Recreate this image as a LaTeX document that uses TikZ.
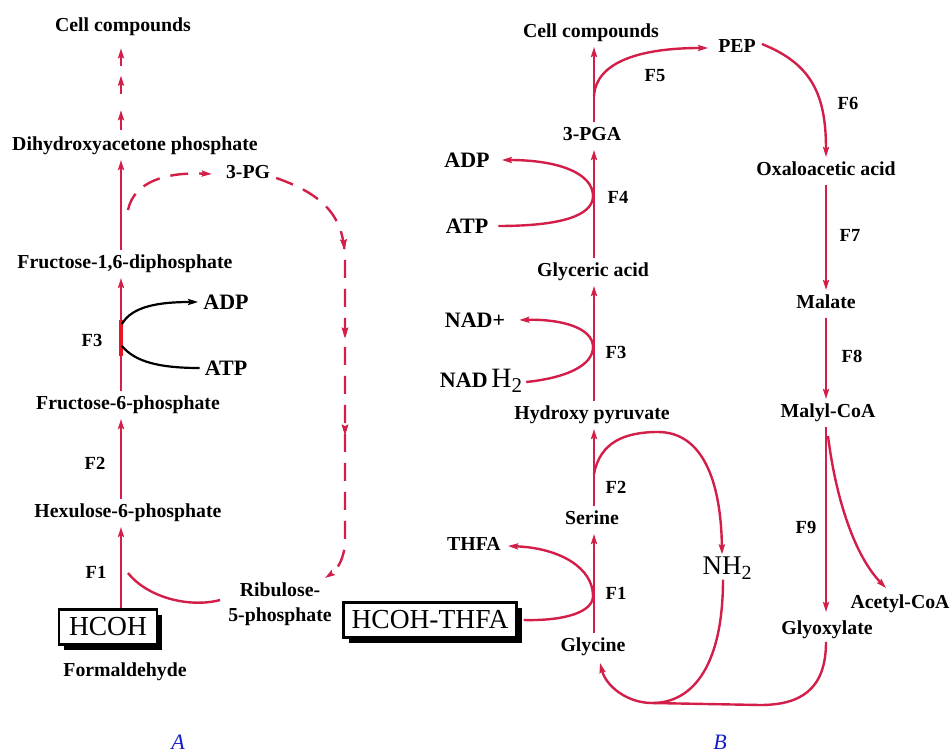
\documentclass[tikz,border=0pt]{standalone}
\usepackage{fontspec}
\setmainfont{Liberation Serif}
\usetikzlibrary{arrows.meta,decorations.markings,calc,shadows}
\definecolor{pw}{RGB}{210,30,72}
\definecolor{pwbright}{RGB}{235,20,35}
\definecolor{labblue}{RGB}{20,30,200}
\begin{document}
\begin{tikzpicture}[x=1pt,y=-1pt,
  lblbase/.style={font=\fontsize{19.8}{25}\selectfont\bfseries, inner xsep=2pt, inner ysep=5pt},
  lbl/.style={lblbase, text height=13.5pt, text depth=4pt},
  bigl/.style={font=\fontsize{22}{24}\selectfont\bfseries, inner sep=2pt},
  hugel/.style={font=\fontsize{27}{29}\selectfont, inner sep=2pt},
  enz/.style={font=\fontsize{18.5}{20}\selectfont\bfseries, inner sep=1pt},
  panel/.style={font=\fontsize{22}{24}\selectfont\itshape, text=labblue, inner sep=0pt, anchor=base},
  boxl/.style={draw=black, line width=2.4pt, fill=white, font=\fontsize{27.5}{29}\selectfont, minimum height=35pt, inner xsep=4pt, inner ysep=0pt,
     drop shadow={shadow xshift=5pt, shadow yshift=-5pt, fill=black, opacity=1}},
  rl/.style={draw=pw, line width=2.4pt},
  bl/.style={draw=black, line width=2.2pt},
  tip/.style={-{Stealth[length=10pt,width=6pt,inset=1.5pt]}},
  dsh/.style={rl, dash pattern=on 18pt off 11pt},
  mk/.style={postaction={decorate}, decoration={markings,
     mark=at position #1 with {\arrow{Stealth[length=10pt,width=6pt,inset=1.5pt,color=pw]}}}}
]
\useasboundingbox (0,0) rectangle (952,754);

% ---------- column references
\coordinate (colA) at (121,0);
\coordinate (colB) at (594,0);
\coordinate (colC) at (826,0);

% ================= Panel A
\node[lbl] (cellA) at (123,27) {Cell compounds};
\node[lbl] (dhap) at (135,146) {Dihydroxyacetone phosphate};
\node[lbl] (pg3) at (248,174) {3-PG};
\node[lbl] (fdp) at (125,264) {Fructose-1,6-diphosphate};
\node[bigl] (adpA) at (226,302) {ADP};
\node[bigl] (atpA) at (226,368) {ATP};
\node[enz] (f3A) at (92,340) {F3};
\node[lbl] (f6p) at (128,405) {Fructose-6-phosphate};
\node[enz] (f2A) at (95,463) {F2};
\node[lbl] (h6p) at (128,513) {Hexulose-6-phosphate};
\node[enz] (f1A) at (96,572) {F1};
\node[boxl, minimum width=98pt] (hcoh) at (108,627) {HCOH};
\node[lbl] (form) at (125,672) {Formaldehyde};
\node[lblbase, align=center] (ribu) at (280,604) {Ribulose-\\5-phosphate};
\node[panel] (labA) at (178,749) {A};

% dashed arrows to cell compounds
\foreach \a/\b in {0.02/0.24, 0.42/0.62, 0.73/0.92}
  \draw[rl, tip] ($(dhap.north -| colA)!\a!(cellA.south -| colA)$) -- ($(dhap.north -| colA)!\b!(cellA.south -| colA)$);

\draw[rl, tip] (fdp.north -| colA) -- (dhap.south -| colA);
\draw[rl, tip] (f6p.north -| colA) -- (fdp.south -| colA);
\draw[rl, tip] (h6p.north -| colA) -- (f6p.south -| colA);
\draw[rl, tip] (hcoh.north -| colA) -- (h6p.south -| colA);

% bright segment at F3
\coordinate (jA3a) at (121,320);
\coordinate (jA3b) at (121,356);
\draw[draw=pwbright, line width=3.4pt] (jA3a) -- (jA3b);

% ATP -> ADP (black)
\coordinate (jA3c) at (122,324);
\coordinate (jA3d) at (122,346);
\draw[bl, tip] (jA3c) .. controls (132,306) and (160,302) .. ([xshift=-3pt]adpA.west);
\draw[bl] (jA3d) .. controls (135,362) and (160,368) .. ([xshift=-3pt]atpA.west);

% branch to 3-PG (dashed)
\coordinate (jA2) at (128,210);
\draw[dsh, tip] (jA2) .. controls (134,182) and (165,172) .. ([xshift=-12pt]pg3.west);

% 3-PG to Ribulose (dashed)
\draw[dsh, mk=0.24, mk=0.44, mk=0.66, tip] ([xshift=4pt,yshift=-4pt]pg3.east)
   .. controls (328,196) and (345,220) .. (345,262)
   -- (345,540) .. controls (345,558) and (337,570) .. (325,578);

% Ribulose to F1 junction
\coordinate (jA1) at (128,573);
\draw[rl] ([xshift=-6pt,yshift=4pt]ribu.west) .. controls (190,608) and (148,598) .. (jA1);

% ================= Panel B
\node[lbl] (cellB) at (591,33) {Cell compounds};
\node[lbl] (pep) at (737,48) {PEP};
\node[enz] (f5) at (655,76) {F5};
\node[lbl] (pga) at (592,136) {3-PGA};
\node[bigl] (adpB) at (467,160) {ADP};
\node[bigl] (atpB) at (467,226) {ATP};
\node[enz] (f4) at (618,197) {F4};
\node[lbl] (glya) at (593,272) {Glyceric acid};
\node[bigl] (nadp) at (475,320) {NAD+};
\node[inner sep=2pt] (nadh) at (481,381) {\fontsize{22}{24}\selectfont\bfseries NAD\,\fontsize{28}{29}\selectfont\mdseries H\raisebox{-5pt}{\fontsize{21}{22}\selectfont 2}};
\node[enz] (f3B) at (616,352) {F3};
\node[lbl] (hpyr) at (592,415) {Hydroxy pyruvate};
\node[enz] (f2B) at (616,487) {F2};
\node[lbl] (serine) at (592,520) {Serine};
\node[hugel] (nh2) at (727,568) {NH\raisebox{-5pt}{\fontsize{20}{22}\selectfont 2}};
\node[lbl] (thfa) at (474,546) {THFA};
\node[enz] (f1B) at (616,593) {F1};
\node[boxl, minimum width=173pt] (hthfa) at (430,620) {HCOH-THFA};
\node[lbl] (glycine) at (593,647) {Glycine};
\node[panel] (labB) at (720,749) {B};

\draw[rl, tip] (pga.north -| colB) -- (cellB.south -| colB);
\draw[rl, tip] (glya.north -| colB) -- (pga.south -| colB);
\draw[rl, tip] (hpyr.north -| colB) -- (glya.south -| colB);
\draw[rl, tip] (serine.north -| colB) -- (hpyr.south -| colB);
\draw[rl, tip] (glycine.north -| colB) -- (serine.south -| colB);

% F5 branch
\coordinate (jB5) at (594,96);
\draw[rl, tip] (jB5) .. controls (596,62) and (640,48) .. ([xshift=-8pt]pep.west);

% F4: ATP -> ADP
\coordinate (jB4) at (593,196);
\draw[rl, tip] ([xshift=8pt]atpB.east) .. controls (560,226) and (593,216) .. (jB4)
   .. controls (593,174) and (560,160) .. ([xshift=10pt]adpB.east);

% F3: NADH2 -> NAD+
\coordinate (jB3) at (593,347);
\draw[rl, tip] ([xshift=2pt,yshift=-1pt]nadh.east) .. controls (565,378) and (593,366) .. (jB3)
   .. controls (593,328) and (562,319) .. ([xshift=12pt]nadp.east);

% F2 loop to NH2
\coordinate (jB2) at (594,474);
\draw[rl, tip] (jB2) .. controls (600,442) and (625,432) .. (658,432)
   .. controls (702,432) and (721,480) .. ([xshift=-5pt]nh2.north);

% F1: HCOH-THFA -> THFA
\coordinate (jB1) at (593,596);
\draw[rl, tip] ([xshift=6pt]hthfa.east) .. controls (565,621) and (593,612) .. (jB1)
   .. controls (593,568) and (560,548) .. ([xshift=5pt]thfa.east);

% NH2 back to glycine
\coordinate (bot) at (652,703);
\draw[rl, tip] ([xshift=-4pt,yshift=2pt]nh2.south) .. controls (723,662) and (695,703) .. (bot)
   .. controls (627,703) and (606,686) .. ([xshift=7pt,yshift=-2pt]glycine.south);

% ================= right column
\node[lbl] (oxa) at (826,171) {Oxaloacetic acid};
\node[enz] (f6) at (848,103) {F6};
\node[lbl] (malate) at (826,304) {Malate};
\node[enz] (f7) at (850,235) {F7};
\node[lbl] (malyl) at (828,413) {Malyl-CoA};
\node[enz] (f8) at (852,356) {F8};
\node[enz] (f9) at (806,527) {F9};
\node[lbl] (acetyl) at (900,604) {Acetyl-CoA};
\node[lbl] (glyox) at (827,630) {Glyoxylate};

\draw[rl, tip] ([xshift=4pt,yshift=4pt]pep.east) .. controls (812,64) and (826,95) .. (oxa.north -| colC);
\draw[rl, tip] (oxa.south -| colC) -- (malate.north -| colC);
\draw[rl, tip] (malate.south -| colC) -- (malyl.north -| colC);
\draw[rl, tip] (malyl.south -| colC) -- ([yshift=4pt]glyox.north -| colC);
\coordinate (jC9) at (828,436);
\draw[rl, tip] (jC9) .. controls (836,500) and (855,556) .. ([xshift=-14pt,yshift=2pt]acetyl.north);

% glyoxylate back along the bottom
\draw[rl] ([yshift=2pt]glyox.south -| colC) .. controls (826,690) and (800,705) .. (760,705) -- (bot);

\end{tikzpicture}
\end{document}
